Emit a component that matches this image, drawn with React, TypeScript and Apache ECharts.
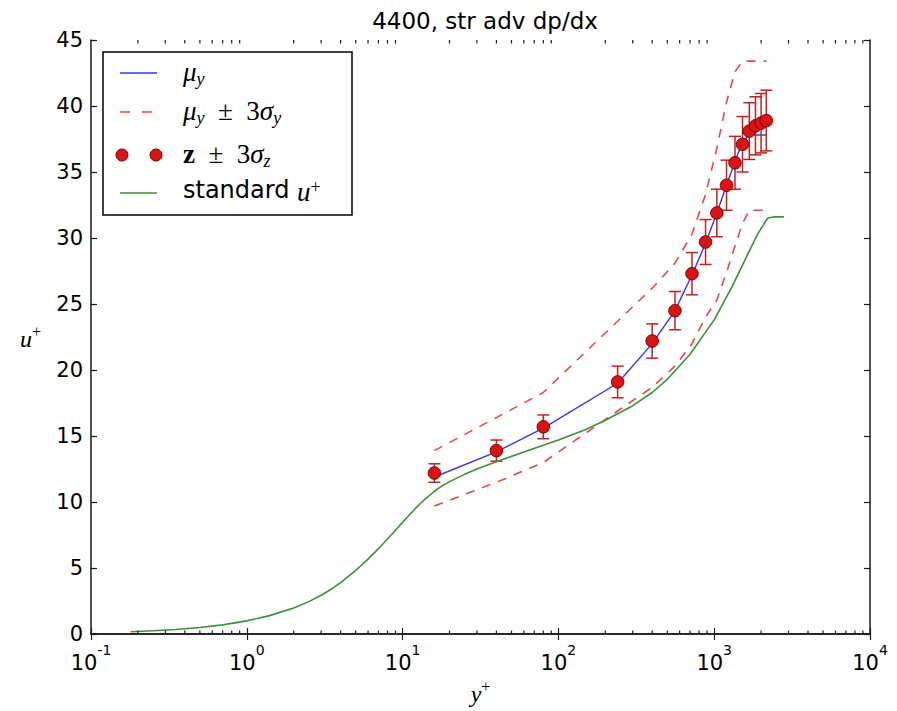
import React, { useEffect, useRef } from 'react';
import * as echarts from 'echarts';

// ---------- data ----------
const titleText = '4400, str adv dp/dx';
const xTickExponents = ['-1', '0', '1', '2', '3', '4'];
const yTicks = [0, 5, 10, 15, 20, 25, 30, 35, 40, 45];

// sample positions (y+)
const pointX = [16, 40, 80, 240, 400, 560, 720, 880, 1040, 1200, 1360, 1520, 1680, 1840, 2000, 2160];
// z values (points) and 3-sigma half widths
const pointU = [12.2, 13.9, 15.7, 19.1, 22.2, 24.5, 27.3, 29.7, 31.9, 34.0, 35.7, 37.1, 38.1, 38.5, 38.7, 38.9];
const pointErr = [0.7, 0.8, 0.9, 1.2, 1.3, 1.45, 1.6, 1.7, 1.8, 1.9, 2.0, 2.1, 2.15, 2.2, 2.25, 2.3];
// mu_y
const muY = [11.9, 13.8, 15.6, 19.0, 22.0, 24.5, 27.2, 29.6, 31.9, 34.0, 35.8, 37.3, 37.8, 37.8, 37.8, 37.8];
// mu_y +/- 3 sigma_y
const muUpper = [13.9, 16.4, 18.3, 23.7, 26.2, 28.1, 30.3, 33.3, 36.8, 40.3, 42.6, 43.4, 43.4, 43.4, 43.4, 43.4];
const muLower = [9.7, 11.5, 13.0, 16.9, 18.7, 20.3, 22.0, 24.0, 25.3, 27.4, 29.4, 31.1, 32.1, 32.1, 32.1, 32.1];

// standard u+ profile
const stdX = [0.18, 0.25, 0.35, 0.5, 0.7, 1, 1.4, 2, 2.5, 3, 3.5, 4, 5, 6, 7, 8, 9, 10, 11, 12, 14, 16, 18, 20, 25, 30, 40, 60, 80, 100, 150, 200, 300, 400, 500, 700, 1000, 1300, 1600, 1900, 2200, 2400, 2800];
const stdU = [0.18, 0.25, 0.35, 0.5, 0.7, 1.0, 1.4, 1.98, 2.46, 2.94, 3.42, 3.9, 4.82, 5.68, 6.47, 7.2, 7.86, 8.46, 9.0, 9.48, 10.25, 10.82, 11.24, 11.55, 12.1, 12.5, 13.05, 13.8, 14.3, 14.7, 15.5, 16.2, 17.3, 18.3, 19.3, 21.2, 23.8, 26.3, 28.5, 30.3, 31.5, 31.6, 31.6];

// minor tick multipliers / decades for the log axis
const minorMultipliers = [2, 3, 4, 5, 6, 7, 8, 9];
const minorDecades = [0.1, 1, 10, 100, 1000];

// ---------- styles ----------
const BLUE = '#3535ec';
const RED_DASH = '#e84848';
const GREEN = '#3d8f3d';
const PT_FILL = '#d81414';
const PT_EDGE = '#7a0000';
const ERR = '#c42020';
const AXIS = '#1a1a1a';

const pairs = (xs: number[], ys: number[]) => xs.map((x, i) => [x, ys[i]]);

export default function App() {
  const ref = useRef<HTMLDivElement>(null);

  useEffect(() => {
    document.body.style.margin = '0';
    const chart = echarts.init(ref.current!, null, { renderer: 'svg' });

    const minorTicks: number[][] = [];
    minorDecades.forEach((d) => minorMultipliers.forEach((m) => minorTicks.push([+(m * d).toPrecision(6)])));

    const tickFont = 'DejaVu Sans';
    const mathFamily = 'Liberation Serif';

    const legLeft = 103;
    const legTop = 52;
    const rows = [73, 112, 155, 193];
    const hx1 = 120;
    const hx2 = 157;
    const tx = 183;

    const legRich: any = {
      m: { fontFamily: mathFamily, fontStyle: 'italic', fontSize: 27, lineHeight: 30, verticalAlign: 'top', fill: '#000' },
      r: { fontFamily: mathFamily, fontSize: 27, lineHeight: 30, verticalAlign: 'top', fill: '#000' },
      b: { fontFamily: mathFamily, fontWeight: 'bold', fontSize: 27, lineHeight: 30, verticalAlign: 'top', fill: '#000' },
      sub: { fontFamily: mathFamily, fontStyle: 'italic', fontSize: 18, lineHeight: 18, verticalAlign: 'bottom', fill: '#000' },
      sup: { fontFamily: mathFamily, fontSize: 18, lineHeight: 18, verticalAlign: 'top', fill: '#000' },
      s: { fontFamily: tickFont, fontSize: 24, lineHeight: 30, verticalAlign: 'top', fill: '#000' },
    };

    const legTexts = [
      '{m|μ}{sub|y}',
      '{m|μ}{sub|y}{r|  ±  3}{m|σ}{sub|y}',
      '{b|z}{r|  ±  3}{m|σ}{sub|z}',
      '{s|standard }{m|u}{sup|+}',
    ];

    const legendGraphic: any[] = [
      {
        type: 'rect',
        shape: { x: legLeft, y: legTop, width: 249, height: 163 },
        style: { fill: '#fff', stroke: '#000', lineWidth: 1.5 },
        z: 100,
      },
      { type: 'line', shape: { x1: hx1, y1: rows[0], x2: hx2, y2: rows[0] }, style: { stroke: BLUE, lineWidth: 1.6 }, z: 101 },
      { type: 'line', shape: { x1: hx1, y1: rows[1], x2: hx2, y2: rows[1] }, style: { stroke: RED_DASH, lineWidth: 1.6, lineDash: [10, 12] }, z: 101 },
      { type: 'circle', shape: { cx: hx1 + 2, cy: rows[2], r: 6 }, style: { fill: PT_FILL, stroke: PT_EDGE, lineWidth: 1 }, z: 101 },
      { type: 'circle', shape: { cx: hx2 - 1, cy: rows[2], r: 6 }, style: { fill: PT_FILL, stroke: PT_EDGE, lineWidth: 1 }, z: 101 },
      { type: 'line', shape: { x1: hx1, y1: rows[3], x2: hx2, y2: rows[3] }, style: { stroke: GREEN, lineWidth: 1.6 }, z: 101 },
      ...legTexts.map((t, i) => ({
        type: 'text',
        x: tx,
        y: rows[i],
        z: 101,
        style: { text: t, rich: legRich, verticalAlign: 'middle', align: 'left' },
      })),
    ];

    const option: any = {
      animation: false,
      backgroundColor: '#fff',
      title: {
        text: titleText,
        left: 480,
        top: 4,
        textAlign: 'center',
        textStyle: { fontFamily: tickFont, fontSize: 23, fontWeight: 'normal', color: '#000' },
      },
      grid: { left: 91, right: 27, top: 40, bottom: 68, containLabel: false },
      xAxis: [
        {
          type: 'log',
          logBase: 10,
          min: 0.1,
          max: 10000,
          splitNumber: 5,
          position: 'bottom',
          name: '{i|y}{s|+}',
          nameLocation: 'middle',
          nameGap: 37,
          nameTextStyle: {
            rich: {
              i: { fontFamily: mathFamily, fontStyle: 'italic', fontSize: 24, lineHeight: 28, verticalAlign: 'bottom', color: '#000' },
              s: { fontFamily: mathFamily, fontSize: 16, lineHeight: 16, verticalAlign: 'top', color: '#000' },
            },
          },
          axisLine: { lineStyle: { color: AXIS, width: 1.5 } },
          axisTick: { inside: true, length: 6, lineStyle: { color: AXIS, width: 1.2 } },
          splitLine: { show: false },
          axisLabel: {
            margin: 9,
            formatter: (v: number) => {
              const idx = Math.round(Math.log10(v)) + 1;
              return '{b|10}{e|' + xTickExponents[idx] + '}';
            },
            rich: {
              b: { fontFamily: tickFont, fontSize: 21, lineHeight: 30, verticalAlign: 'bottom', color: '#000' },
              e: { fontFamily: tickFont, fontSize: 14, lineHeight: 16, verticalAlign: 'top', color: '#000' },
            },
          },
        },
        {
          type: 'log',
          logBase: 10,
          min: 0.1,
          max: 10000,
          splitNumber: 5,
          position: 'top',
          axisLine: { lineStyle: { color: AXIS, width: 1.5 } },
          axisTick: { inside: true, length: 6, lineStyle: { color: AXIS, width: 1.2 } },
          axisLabel: { show: false },
          splitLine: { show: false },
        },
      ],
      yAxis: [
        {
          type: 'value',
          min: 0,
          max: 45,
          interval: 5,
          position: 'left',
          name: '{i|u}{s|+}',
          nameLocation: 'middle',
          nameRotate: 0,
          nameGap: 50,
          nameTextStyle: {
            rich: {
              i: { fontFamily: mathFamily, fontStyle: 'italic', fontSize: 24, lineHeight: 28, verticalAlign: 'bottom', color: '#000' },
              s: { fontFamily: mathFamily, fontSize: 16, lineHeight: 16, verticalAlign: 'top', color: '#000' },
            },
          },
          axisLine: { show: true, lineStyle: { color: AXIS, width: 1.5 } },
          axisTick: { show: true, inside: true, length: 6, lineStyle: { color: AXIS, width: 1.2 } },
          splitLine: { show: false },
          axisLabel: {
            margin: 8,
            fontFamily: tickFont,
            fontSize: 21,
            color: '#000',
            formatter: (v: number) => (yTicks.includes(v) ? String(v) : ''),
          },
        },
        {
          type: 'value',
          min: 0,
          max: 45,
          interval: 5,
          position: 'right',
          axisLine: { show: true, lineStyle: { color: AXIS, width: 1.5 } },
          axisTick: { show: true, inside: true, length: 6, lineStyle: { color: AXIS, width: 1.2 } },
          axisLabel: { show: false },
          splitLine: { show: false },
        },
      ],
      series: [
        {
          name: 'mu_y',
          type: 'line',
          data: pairs(pointX, muY),
          symbol: 'none',
          lineStyle: { color: BLUE, width: 1.4 },
          z: 3,
        },
        {
          name: 'upper',
          type: 'line',
          data: pairs(pointX, muUpper),
          symbol: 'none',
          lineStyle: { color: RED_DASH, width: 1.6, type: [9, 8] },
          z: 2,
        },
        {
          name: 'lower',
          type: 'line',
          data: pairs(pointX, muLower),
          symbol: 'none',
          lineStyle: { color: RED_DASH, width: 1.6, type: [9, 8] },
          z: 2,
        },
        {
          name: 'errorbars',
          type: 'custom',
          data: pointX.map((x, i) => [x, pointU[i], pointErr[i]]),
          encode: { x: 0, y: 1 },
          z: 4,
          renderItem: (params: any, api: any) => {
            const x = api.value(0);
            const y = api.value(1);
            const e = api.value(2);
            const top = api.coord([x, y + e]);
            const bot = api.coord([x, y - e]);
            const w = 6;
            const st = { stroke: ERR, lineWidth: 1.5 };
            return {
              type: 'group',
              children: [
                { type: 'line', shape: { x1: top[0], y1: top[1], x2: bot[0], y2: bot[1] }, style: st },
                { type: 'line', shape: { x1: top[0] - w, y1: top[1], x2: top[0] + w, y2: top[1] }, style: st },
                { type: 'line', shape: { x1: bot[0] - w, y1: bot[1], x2: bot[0] + w, y2: bot[1] }, style: st },
              ],
            };
          },
        },
        {
          name: 'z',
          type: 'scatter',
          data: pairs(pointX, pointU),
          symbol: 'circle',
          symbolSize: 12.5,
          itemStyle: { color: PT_FILL, borderColor: PT_EDGE, borderWidth: 1, opacity: 1 },
          z: 5,
        },
        {
          name: 'standard',
          type: 'line',
          data: pairs(stdX, stdU),
          symbol: 'none',
          smooth: false,
          lineStyle: { color: GREEN, width: 1.6 },
          z: 6,
        },
        {
          name: 'minorTicks',
          type: 'custom',
          data: minorTicks,
          encode: { x: 0 },
          z: 7,
          silent: true,
          renderItem: (params: any, api: any) => {
            const v = api.value(0);
            const b = api.coord([v, 0]);
            const t = api.coord([v, 45]);
            const st = { stroke: AXIS, lineWidth: 1.2 };
            return {
              type: 'group',
              children: [
                { type: 'line', shape: { x1: b[0], y1: b[1], x2: b[0], y2: b[1] - 3.5 }, style: st },
                { type: 'line', shape: { x1: t[0], y1: t[1], x2: t[0], y2: t[1] + 3.5 }, style: st },
              ],
            };
          },
        },
      ],
      graphic: legendGraphic,
    };

    chart.setOption(option);
    return () => chart.dispose();
  }, []);

  return (
    <div
      ref={ref}
      style={{ position: 'absolute', left: 0, top: 0, width: 897, height: 711, background: '#fff' }}
    />
  );
}
